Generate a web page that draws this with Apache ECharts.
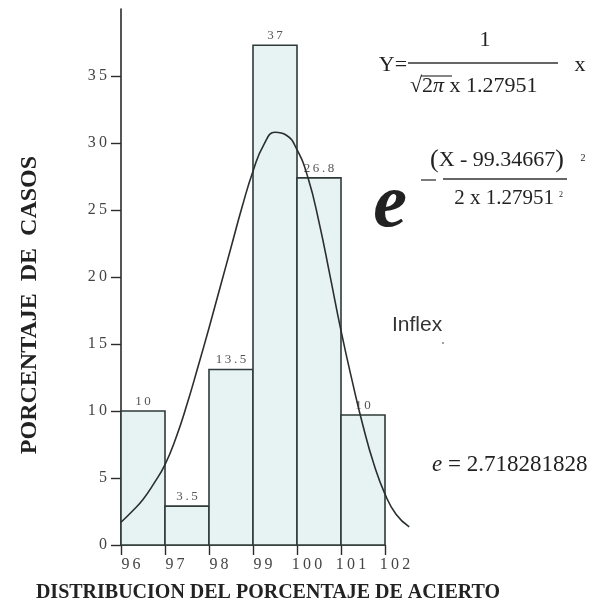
<!DOCTYPE html>
<html><head><meta charset="utf-8">
<script src="https://cdn.jsdelivr.net/npm/echarts@6/dist/echarts.min.js"></script>
<style>html,body{margin:0;padding:0;background:#fff}#c{width:601px;height:606px}</style>
</head><body><div id="c"></div>
<script>
// ---- data ----
const binStarts = [96, 97, 98, 99, 100, 101];
const binEnds   = [97, 98, 99, 100, 101, 102];
const barValues = [10.0, 2.9, 13.1, 37.3, 27.4, 9.7];
const barLabels = ['10', '3.5', '13.5', '37', '26.8', '10'];
const curveX = [96.0, 96.25, 96.5, 96.75, 97.0, 97.25, 97.5, 97.75, 98.0, 98.25, 98.5, 98.75, 99.0, 99.25, 99.5, 99.75, 100.0, 100.25, 100.5, 100.75, 101.0, 101.25, 101.5, 101.75, 102.0, 102.25, 102.55];
const curveY = [1.7, 2.5, 3.4, 4.6, 6.0, 8.0, 10.5, 13.3, 16.2, 19.2, 22.2, 25.2, 27.9, 29.9, 30.8, 30.6, 29.5, 27.4, 24.1, 20.1, 16.0, 12.3, 8.9, 6.0, 3.8, 2.3, 1.35];
const xTicks = [96, 97, 98, 99, 100, 101, 102];
const yTicks = [0, 5, 10, 15, 20, 25, 30, 35];

const SERIF = '"Liberation Serif", "Times New Roman", serif';
const SANS = '"Liberation Sans", Arial, sans-serif';
function sp(s) { return String(s).split('').join('\u2009'); }

const barData = binStarts.map((s, i) => [s, binEnds[i], barValues[i], i]);
const curveData = curveX.map((x, i) => [x, curveY[i]]);

// plot area geometry (pixels) and the wider hidden axis range used so the curve can run past 102
const G = {left: 121, right: 216, top: 9, bottom: 61};
const xMin = 96, xMax = 102, xMaxCurve = 102.6;
const plotW = 601 - G.left - G.right;
const curveGridW = plotW * (xMaxCurve - xMin) / (xMax - xMin);

const chart = echarts.init(document.getElementById('c'), null, {renderer: 'canvas'});
const axisColor = '#2b2b2b';

function txt(x, y, text, font, opts) {
  opts = opts || {};
  return Object.assign({
    type: 'text', x: x, y: y, z: 100,
    style: Object.assign({
      text: text, font: font, fill: opts.fill || '#222',
      align: opts.align || 'center', verticalAlign: opts.va || 'middle',
      textAlign: opts.align || 'center', textVerticalAlign: opts.va || 'middle'
    }, opts.style || {})
  }, opts.el || {});
}
function ln(x1, y1, x2, y2, w, color) {
  return {type: 'line', z: 100, shape: {x1: x1, y1: y1, x2: x2, y2: y2},
    style: {stroke: color || '#333', lineWidth: w || 1.2}};
}

chart.setOption({
  backgroundColor: '#ffffff',
  animation: false,
  grid: [
    {left: G.left, right: G.right, top: G.top, bottom: G.bottom, containLabel: false, outerBoundsMode: 'none'},
    {left: G.left, width: curveGridW, top: G.top, bottom: G.bottom, containLabel: false, outerBoundsMode: 'none'}
  ],
  xAxis: [{
    type: 'value', min: xMin, max: xMax, interval: 1, gridIndex: 0,
    axisLine: {show: true, onZero: false, lineStyle: {color: axisColor, width: 1.6}},
    axisTick: {show: true, inside: false, length: 10, lineStyle: {color: axisColor, width: 1.4}},
    axisLabel: {formatter: v => sp(v), fontFamily: SERIF, fontSize: 16, color: '#444', margin: 12, padding: [0, 0, 0, 20]},
    splitLine: {show: false}
  }, {
    type: 'value', min: xMin, max: xMaxCurve, gridIndex: 1, show: false
  }],
  yAxis: [{
    type: 'value', min: 0, max: 40, interval: 5, gridIndex: 0,
    axisLine: {show: true, lineStyle: {color: axisColor, width: 1.6}},
    axisTick: {show: true, inside: false, length: 10, customValues: yTicks, lineStyle: {color: axisColor, width: 1.4}},
    axisLabel: {customValues: yTicks, formatter: v => sp(v), fontFamily: SERIF, fontSize: 16, color: '#444', margin: 14},
    splitLine: {show: false}
  }, {
    type: 'value', min: 0, max: 40, gridIndex: 1, show: false
  }],
  series: [
    {
      type: 'custom',
      xAxisIndex: 0, yAxisIndex: 0,
      data: barData,
      encode: {x: [0, 1], y: 2},
      z: 2,
      renderItem: function (params, api) {
        const p0 = api.coord([api.value(0), 0]);
        const p1 = api.coord([api.value(1), api.value(2)]);
        const idx = api.value(3);
        return {
          type: 'group',
          children: [
            {type: 'rect', shape: {x: p0[0], y: p1[1], width: p1[0] - p0[0], height: p0[1] - p1[1]},
             style: {fill: '#e7f3f2', stroke: '#2e3b39', lineWidth: 1.6}},
            {type: 'text', x: (p0[0] + p1[0]) / 2, y: p1[1] - 3,
             style: {text: sp(barLabels[idx]), font: '13px ' + SERIF, fill: '#555',
                     align: 'center', verticalAlign: 'bottom', textAlign: 'center', textVerticalAlign: 'bottom'}}
          ]
        };
      }
    },
    {
      type: 'line',
      xAxisIndex: 1, yAxisIndex: 1,
      data: curveData,
      smooth: 0.5,
      showSymbol: false,
      clip: false,
      z: 5,
      lineStyle: {color: '#2a2f2e', width: 1.6}
    }
  ],
  graphic: [
    txt(30, 305, 'PORCENTAJE  DE  CASOS', 'bold 24px ' + SERIF, {el: {rotation: Math.PI / 2}}),
    txt(268, 593, 'DISTRIBUCION DEL PORCENTAJE DE ACIERTO', 'bold 20px ' + SERIF),
    // formula
    txt(393, 65, 'Y=', '22px ' + SERIF),
    txt(485, 40, '1', '22px ' + SERIF),
    ln(408, 63, 558, 63, 1.3),
    txt(410, 86, '{r|√}{n|2}{p|π}{n| x 1.27951}', '22px ' + SERIF, {align: 'left', style: {rich: {
      r: {font: '22px ' + SERIF, fill: '#222'},
      n: {font: '22px ' + SERIF, fill: '#222'},
      p: {font: 'italic 22px ' + SERIF, fill: '#222'}
    }}}),
    ln(421, 76, 452, 76, 1.2),
    txt(580, 65, 'x', '22px ' + SERIF),
    txt(390, 206, 'e', 'bold italic 76px ' + SERIF),
    ln(421, 180, 436, 180, 1.3),
    txt(497, 160, '{q|(}{n|X - 99.34667}{q|)}', '22px ' + SERIF, {style: {rich: {
      q: {font: '26px ' + SERIF, fill: '#222'},
      n: {font: '22px ' + SERIF, fill: '#222'}
    }}}),
    txt(583, 158, '2', '10px ' + SERIF),
    ln(443, 179, 567, 179, 1.3),
    txt(504, 198, '2 x 1.27951', '21px ' + SERIF),
    txt(561, 195, '2', '8px ' + SERIF),
    txt(392, 325, 'Inflex', '21px ' + SANS, {align: 'left', fill: '#333'}),
    {type: 'circle', z: 100, shape: {cx: 443, cy: 343, r: 0.9}, style: {fill: '#777'}},
    txt(432, 465, '{e|e} {n|= 2.718281828}', '23px ' + SERIF, {align: 'left', style: {rich: {
      e: {font: 'italic 23px ' + SERIF, fill: '#222'},
      n: {font: '23px ' + SERIF, fill: '#222'}
    }}})
  ]
});
</script>
</body></html>
